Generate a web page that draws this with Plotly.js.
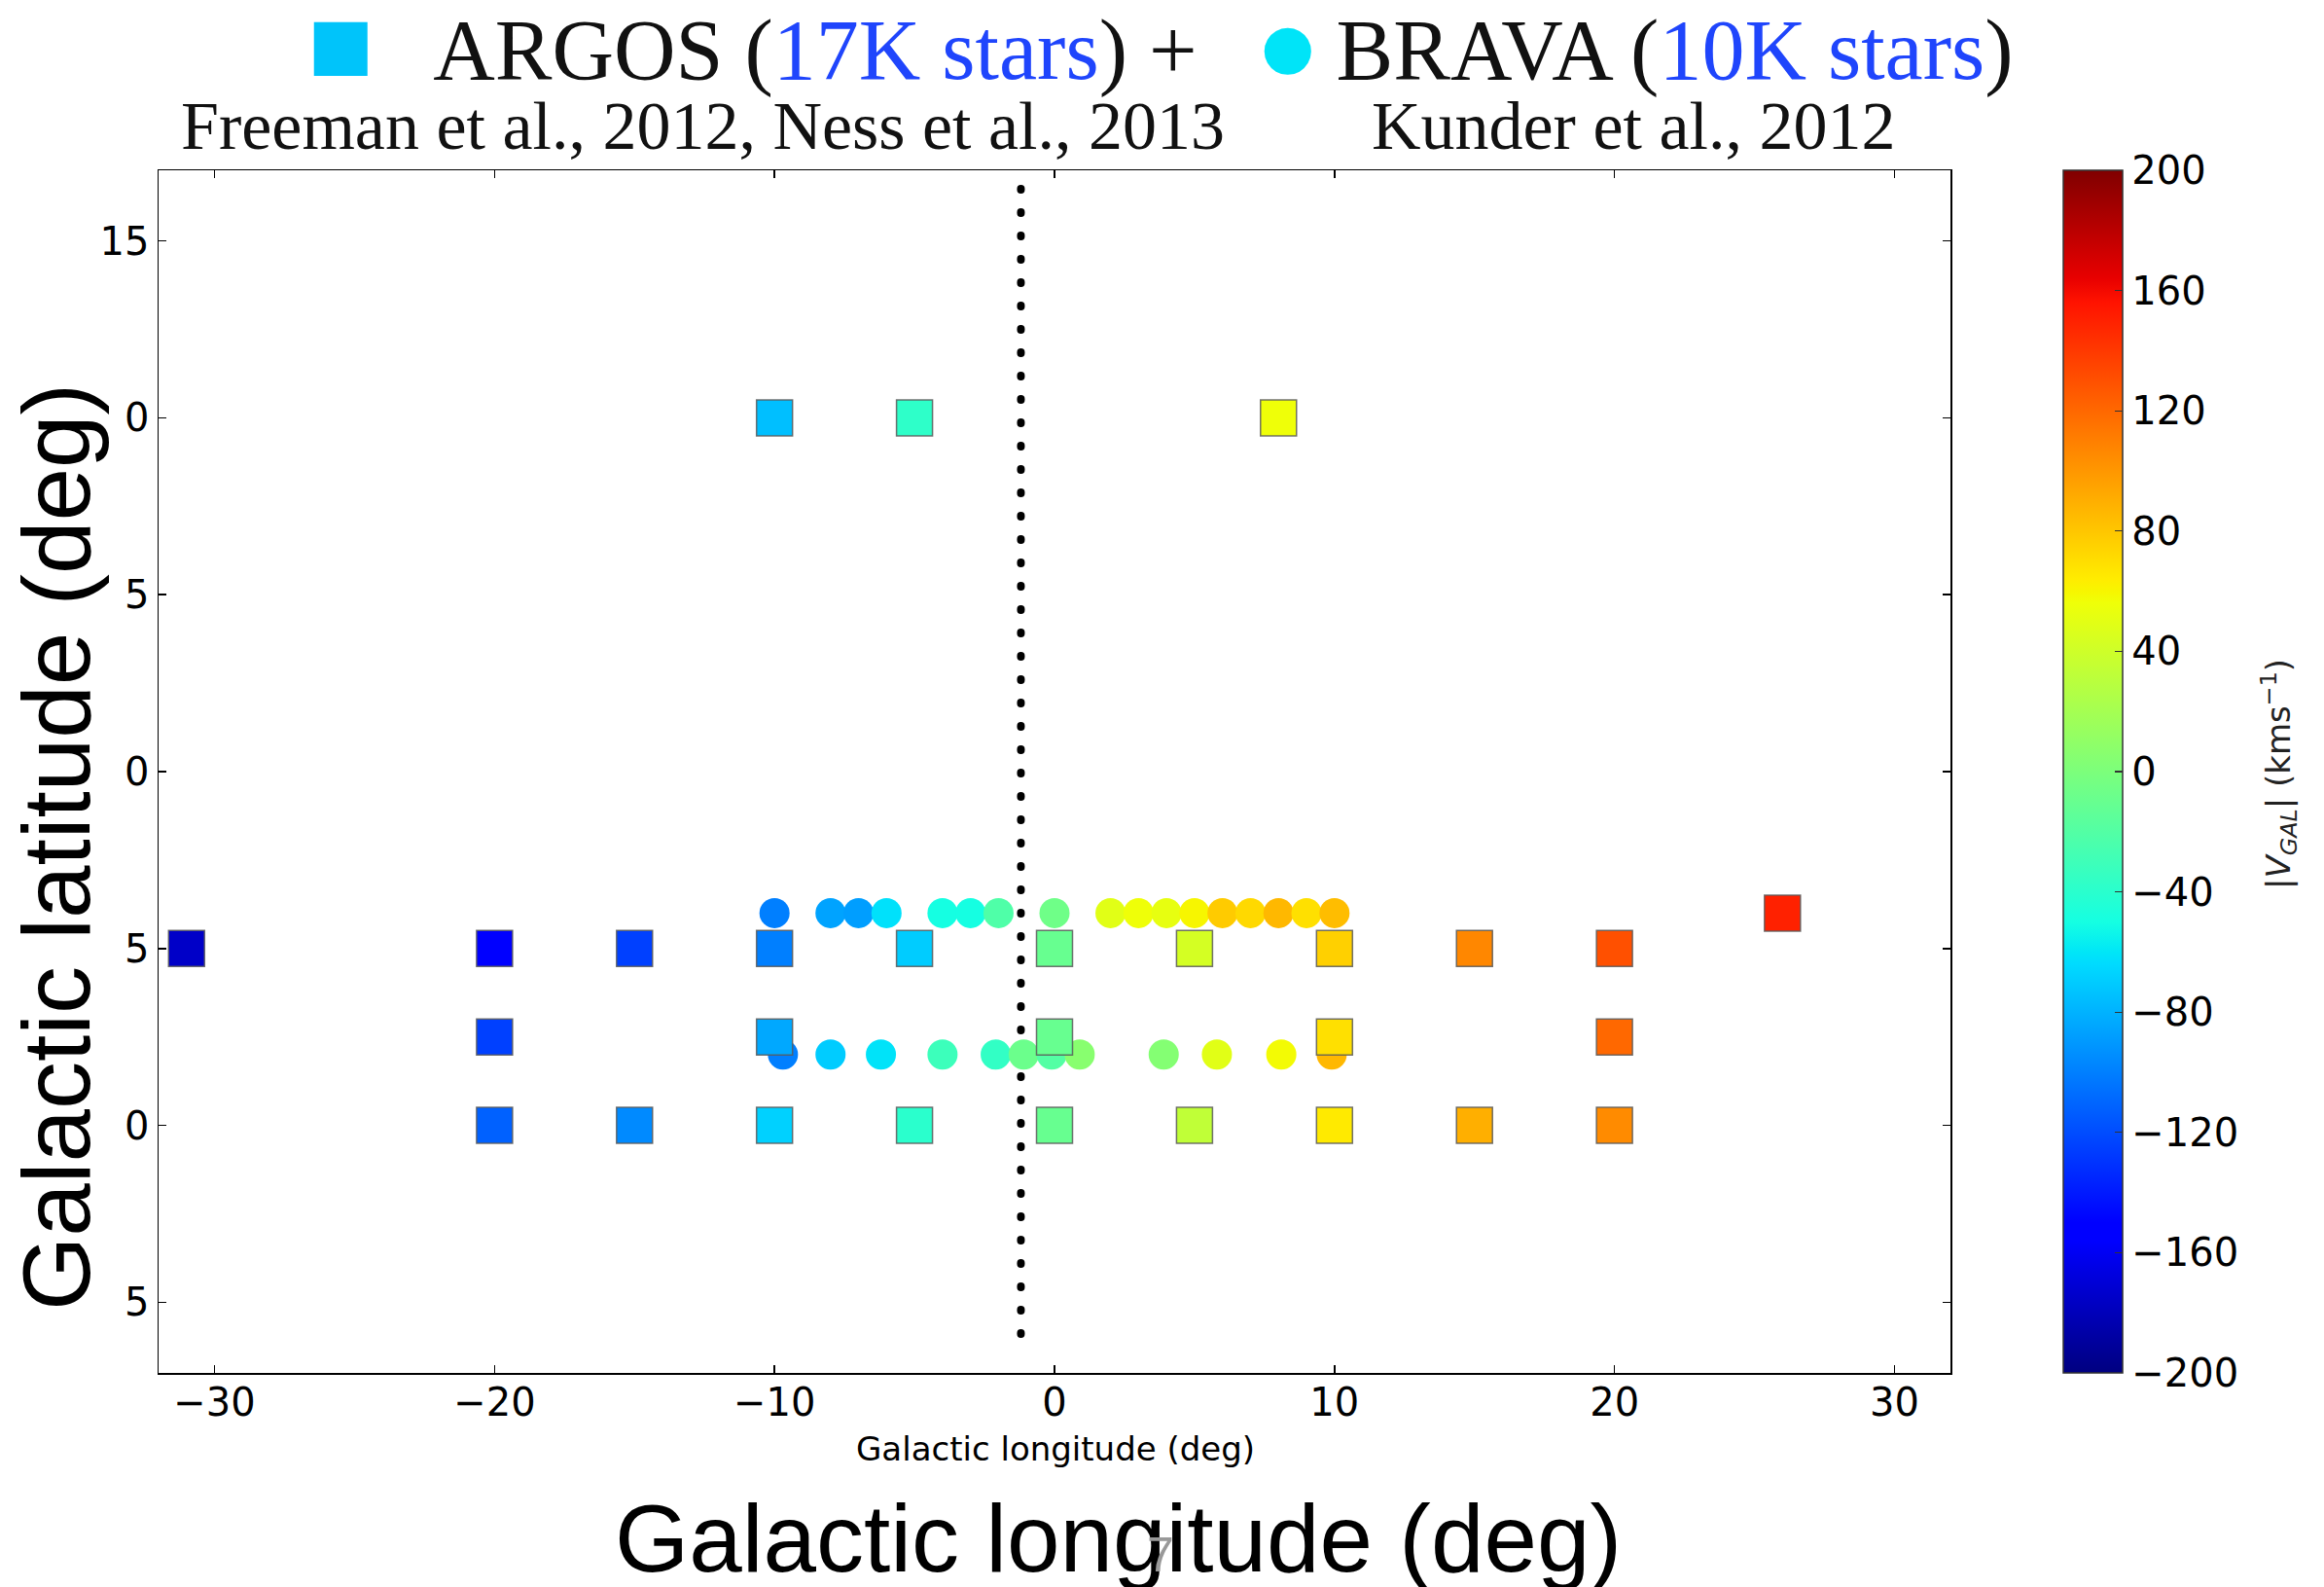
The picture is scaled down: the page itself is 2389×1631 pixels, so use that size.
<!DOCTYPE html>
<html><head><meta charset="utf-8">
<script src="https://cdn.plot.ly/plotly-3.0.1.min.js"></script>
<style>
html,body{margin:0;padding:0;background:#fff;}
#chart{width:2389px;height:1631px;}
.scatterlayer .js-line{stroke-linecap:round;}
</style></head><body><div id="chart"></div>
<script>
// ARGOS fields (squares): longitude, latitude, velocity
const argosL = [-10, -5, 8,
  -31, -20, -15, -10, -5, 0, 5, 10, 15, 20,
  -20, -10, 0, 10, 20,
  -20, -15, -10, -5, 0, 5, 10, 15, 20,
  26];
const argosB = [10, 10, 10,
  -5, -5, -5, -5, -5, -5, -5, -5, -5, -5,
  -7.5, -7.5, -7.5, -7.5, -7.5,
  -10, -10, -10, -10, -10, -10, -10, -10, -10,
  -4];
const argosV = [-75, -38, 56,
  -175, -155, -125, -100, -70, -10, 43, 76, 107, 130,
  -125, -84, -10, 69, 120,
  -112, -96, -68, -40, -10, 33, 65, 90, 105,
  150];

// BRAVA fields (circles)
const bravaL = [-10, -8, -7, -6, -4, -3, -2, 0, 2, 3, 4, 5, 6, 7, 8, 9, 10,
  -9.7, -8, -6.2, -4, -2.1, -1.1, -0.1, 0.9, 3.9, 5.8, 8.1, 9.9];
const bravaB = [-4, -4, -4, -4, -4, -4, -4, -4, -4, -4, -4, -4, -4, -4, -4, -4, -4,
  -8, -8, -8, -8, -8, -8, -8, -8, -8, -8, -8, -8];
const bravaV = [-100, -86, -88, -62, -50, -50, -22, -6, 49, 56, 52, 60, 78, 72, 86, 69, 84,
  -100, -70, -61, -31, -36, -8, -20, 6, 4, 49, 58, 86];

// dotted reference line
const refLineL = [-1.2, -1.2];
const refLineB = [-15.9, 16.6];

const xTicks = [-30, -20, -10, 0, 10, 20, 30];
const yTicks = [15, 10, 5, 0, -5, -10, -15];
const yTickText = ['15', '0', '5', '0', '5', '0', '5'];
const cbTicks = [-200, -160, -120, -80, -40, 0, 40, 80, 120, 160, 200];

// matplotlib "jet"
const jet = [
  [0, 'rgb(0,0,128)'], [0.11, 'rgb(0,0,255)'], [0.125, 'rgb(0,0,255)'],
  [0.34, 'rgb(0,219,255)'], [0.35, 'rgb(0,230,247)'], [0.375, 'rgb(21,255,226)'],
  [0.64, 'rgb(239,255,8)'], [0.65, 'rgb(247,246,0)'], [0.66, 'rgb(255,236,0)'],
  [0.89, 'rgb(255,19,0)'], [0.91, 'rgb(232,0,0)'], [1, 'rgb(128,0,0)']
];

const traces = [
  {x: refLineL, y: refLineB, type: 'scatter', mode: 'lines',
   line: {color: '#000', width: 8, dash: '1px,23px'}, hoverinfo: 'skip'},
  {x: bravaL, y: bravaB, type: 'scatter', mode: 'markers', name: 'BRAVA',
   marker: {symbol: 'circle', size: 31, color: bravaV, coloraxis: 'coloraxis',
            line: {width: 0}}},
  {x: argosL, y: argosB, type: 'scatter', mode: 'markers', name: 'ARGOS',
   marker: {symbol: 'square', size: 37, color: argosV, coloraxis: 'coloraxis',
            line: {width: 1.5, color: 'rgba(90,90,90,0.85)'}}}
];

const tickFont = {family: 'DejaVu Sans', size: 40, color: '#000'};
const axisCommon = {
  showgrid: false, zeroline: false, showline: true, linecolor: '#000', linewidth: 1.5,
  mirror: 'allticks', ticks: 'inside', ticklen: 8, tickwidth: 1.5, tickcolor: '#000',
  tickfont: tickFont
};

const px = v => (v - 163) / 1842;
const py = v => (1411 - v) / 1236;

const blue = '#1f45fc';
const titleText = '<span style="color:#00c4fa;font-family:DejaVu Sans;font-size:72px;baseline-shift:12px">■</span>   ARGOS (<span style="color:' + blue + '">17K stars</span>) +   ' +
  '<span style="color:#00e4f8;font-family:DejaVu Sans;font-size:63px;baseline-shift:12px">●</span> BRAVA (<span style="color:' + blue + '">10K stars</span>)';

const annotations = [
  {text: titleText, x: px(1193), y: py(51), xref: 'paper', yref: 'paper', showarrow: false,
   xanchor: 'center', yanchor: 'middle', font: {family: 'Liberation Serif', size: 88, color: '#111'}},
  {text: 'Freeman et al., 2012, Ness et al., 2013', x: px(722), y: py(130), xref: 'paper', yref: 'paper',
   showarrow: false, xanchor: 'center', yanchor: 'middle', font: {family: 'Liberation Serif', size: 70, color: '#111'}},
  {text: 'Kunder et al., 2012', x: px(1679), y: py(130), xref: 'paper', yref: 'paper',
   showarrow: false, xanchor: 'center', yanchor: 'middle', font: {family: 'Liberation Serif', size: 70, color: '#111'}},
  {text: 'Galactic latitude (deg)', x: px(58), y: py(871), xref: 'paper', yref: 'paper', textangle: -90,
   showarrow: false, xanchor: 'center', yanchor: 'middle', font: {family: 'Liberation Sans', size: 98, color: '#000'}},
  {text: 'Galactic longitude (deg)', x: px(1149), y: py(1581), xref: 'paper', yref: 'paper',
   showarrow: false, xanchor: 'center', yanchor: 'middle', font: {family: 'Liberation Sans', size: 98, color: '#000'}},
  {text: 'Galactic longitude (deg)', x: px(1085), y: py(1489), xref: 'paper', yref: 'paper',
   showarrow: false, xanchor: 'center', yanchor: 'middle', font: {family: 'DejaVu Sans', size: 34, color: '#000'}},
  {text: '|<i>V</i><sub><i>GAL</i></sub>| (kms<sup>−1</sup>)', x: px(2342), y: py(796), xref: 'paper', yref: 'paper', textangle: -90,
   showarrow: false, xanchor: 'center', yanchor: 'middle', font: {family: 'DejaVu Sans', size: 34, color: '#222'}},
  {text: '7', x: px(1193), y: py(1598), xref: 'paper', yref: 'paper',
   showarrow: false, xanchor: 'center', yanchor: 'middle', font: {family: 'Liberation Sans', size: 50, color: '#999'}}
];

const layout = {
  width: 2389, height: 1631,
  margin: {l: 163, r: 384, t: 175, b: 220},
  paper_bgcolor: '#fff', plot_bgcolor: '#fff',
  showlegend: false,
  xaxis: Object.assign({}, axisCommon, {range: [-32, 32], tickvals: xTicks, ticklabelstandoff: -6}),
  yaxis: Object.assign({}, axisCommon, {range: [-17, 17], tickvals: yTicks, ticktext: yTickText}),
  coloraxis: {
    cmin: -200, cmax: 200, colorscale: jet,
    colorbar: {
      x: px(2121), xanchor: 'left', y: 0.5, yanchor: 'middle',
      len: 1, lenmode: 'fraction', thickness: 61, thicknessmode: 'pixels',
      xpad: 0, ypad: 0, outlinewidth: 1.5, outlinecolor: '#333',
      tickvals: cbTicks, ticks: 'inside', ticklen: 8, tickcolor: '#333', tickwidth: 1.2,
      tickfont: tickFont
    }
  },
  annotations: annotations
};

Plotly.newPlot('chart', traces, layout, {displayModeBar: false, staticPlot: true});
</script></body></html>
